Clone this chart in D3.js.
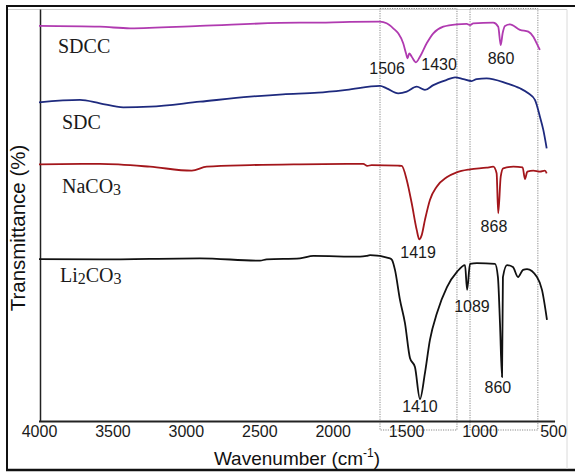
<!DOCTYPE html>
<html>
<head>
<meta charset="utf-8">
<script src="https://cdn.jsdelivr.net/npm/d3@7"></script>
<style>
  html, body { margin: 0; padding: 0; background: #fff; }
  svg { display: block; }
</style>
</head>
<body>
<div id="chart"></div>
<script>
// ---- Data (wavenumber cm^-1, transmittance in arbitrary offset %) ----
const xTicks = [4000, 3500, 3000, 2500, 2000, 1500, 1000, 500];

const sdccW = [4000,3585,3380,2904,2223,2155,1882,1678,1633,1588,1554,1520,1501,1490,1479,1462,1433,1406,1360,1315,1247,1156,1088,1065,1043,907,873,856,843,827,793,725,668,634,611,589];
const sdccT = [98.9,98.7,98.3,98.9,99.7,99.7,99.9,99.95,99.55,98.3,97.05,94.55,92.05,90.8,92.05,91.2,89.8,91.2,94.55,97.05,98.7,99.3,99.4,99.1,99.55,99.7,98.7,94.1,97.05,98.9,99.3,97.9,97.45,96.2,94.55,92.9];

const sdcW = [4000,3721,3585,3426,3244,2904,2563,2339,2100,1905,1678,1633,1554,1496,1428,1372,1315,1224,1167,1111,1054,1020,952,815,725,668,623,589,566,543];
const sdcT = [79.8,80.4,79.55,78.55,78.7,79.95,81.2,81.8,82.2,82.9,83.9,83.3,82.05,82.45,83.7,82.9,84.1,85.4,86.05,85.6,85.1,85.6,85.8,84.55,83.3,82.05,80.4,76.2,72.9,68.3];

const nacoW = [4000,3585,3244,2960,2858,2563,2223,1792,1765,1735,1554,1530,1496,1462,1428,1411,1394,1372,1338,1292,1224,1156,1065,952,907,884,873,856,839,770,707,691,675,634,589,555,543];
const nacoT = [64.3,64.4,63.7,62.7,63.7,64.1,64.3,64.4,63.9,64.1,63.95,63.9,60.4,54.55,47.9,45.55,46.6,50.4,55.4,58.7,61.05,62.3,63.05,63.45,63.7,62.05,52.05,61.2,63.3,63.7,63.55,60.6,62.45,62.7,62.45,62.7,62.05];

const liW = [4000,3585,2904,2495,2450,2223,2132,1814,1769,1746,1610,1596,1576,1542,1508,1474,1440,1406,1372,1338,1290,1222,1154,1099,1085,1065,1018,895,875,861,847,841,813,773,738,704,677,609,575,541];
const liT = [40.6,40.55,40.8,40.2,40.55,40.8,41.4,41.2,41.4,41.6,40.8,40.4,37.9,30.4,24.6,15.9,13.6,5.6,12.1,20.4,27.1,33.6,37.4,39.1,32.9,39.4,39.6,39.4,36.1,24.6,11.1,36.1,39.1,38.6,36.1,37.9,38.1,36.1,32.9,25.4];

const seriesNames = ["SDCC", "SDC", "NaCO3", "Li2CO3"];
const seriesColors = ["#b03ab0", "#1e2a7e", "#a3161b", "#111111"];

// Peak annotations: label, wavenumber, transmittance position
const peakLabels = ["1506", "1430", "860", "868", "1419", "1089", "860", "1410"];
const peakW = [1630, 1276, 854, 902, 1419, 1052, 875, 1406];
const peakT = [86.9, 87.9, 89.4, 47.4, 40.9, 27.4, 7.1, 2.4];

// Highlighted regions (wavenumber ranges)
const regionStart = [1678, 1065];
const regionEnd = [1154, 603];

// ---- Layout ----
const W = 575, H = 472;
const svg = d3.select("#chart").append("svg").attr("width", W).attr("height", H);

const x = d3.scaleLinear().domain([4000, 500]).range([39, 553]);
const y = d3.scaleLinear().domain([0, 100]).range([421.5, 21.5]);

// outer frame
svg.append("line").attr("x1", 6).attr("x2", 575).attr("y1", 6).attr("y2", 6).attr("stroke", "#111").attr("stroke-width", 2);
svg.append("line").attr("x1", 7).attr("x2", 7).attr("y1", 5).attr("y2", 471).attr("stroke", "#111").attr("stroke-width", 2);
svg.append("line").attr("x1", 6).attr("x2", 575).attr("y1", 470).attr("y2", 470).attr("stroke", "#111").attr("stroke-width", 2.5);
svg.append("line").attr("x1", 8).attr("x2", 567).attr("y1", 9.5).attr("y2", 9.5).attr("stroke", "#cfcfcf").attr("stroke-width", 1);
svg.append("line").attr("x1", 567).attr("x2", 567).attr("y1", 9.5).attr("y2", 469).attr("stroke", "#dadada").attr("stroke-width", 1);

// dotted regions
regionStart.forEach((s, i) => {
  const x0 = x(s), x1 = x(regionEnd[i]);
  svg.append("rect")
    .attr("x", x0).attr("y", 8.5)
    .attr("width", x1 - x0).attr("height", 430 - 8.5)
    .attr("fill", "none").attr("stroke", "#8a8a8a")
    .attr("stroke-width", 1).attr("stroke-dasharray", "1.2,1.2");
});

// axes
const xAxis = d3.axisBottom(x).tickValues(xTicks).tickSize(0).tickPadding(4).tickFormat(d3.format("d"));
const gx = svg.append("g").attr("transform", `translate(0,${y(0)})`).call(xAxis);
gx.select(".domain").remove();
gx.selectAll("text").attr("font-family", "Liberation Sans, Arial, sans-serif").attr("font-size", 16).attr("fill", "#1a1a1a");
svg.append("line").attr("x1", x(4000)).attr("x2", x(486)).attr("y1", y(0)).attr("y2", y(0)).attr("stroke", "#222").attr("stroke-width", 2);
svg.append("line").attr("x1", 40.5).attr("x2", 40.5).attr("y1", y(103)).attr("y2", y(0)).attr("stroke", "#222").attr("stroke-width", 1.5);

// axis titles
const xt = svg.append("text").attr("x", 297).attr("y", 465).attr("text-anchor", "middle")
  .attr("font-family", "Liberation Sans, Arial, sans-serif").attr("font-size", 19).attr("fill", "#111");
xt.append("tspan").text("Wavenumber (cm");
xt.append("tspan").attr("font-size", 12).attr("dy", -8).text("-1");
xt.append("tspan").attr("dy", 8).text(")");

svg.append("text").attr("transform", "translate(25,228) rotate(-90)").attr("text-anchor", "middle")
  .attr("font-family", "Liberation Sans, Arial, sans-serif").attr("font-size", 20.5).attr("fill", "#111")
  .text("Transmittance (%)");

// curves
const allW = [sdccW, sdcW, nacoW, liW];
const allT = [sdccT, sdcT, nacoT, liT];
const line = d3.line().x(d => x(d[0])).y(d => y(d[1])).curve(d3.curveMonotoneX);
allW.forEach((ws, i) => {
  const pts = ws.map((w, j) => [w, allT[i][j]]);
  svg.append("path").datum(pts).attr("d", line)
    .attr("fill", "none").attr("stroke", seriesColors[i]).attr("stroke-width", 1.8)
    .attr("stroke-linejoin", "round");
});

// series labels (serif)
const labelPos = [[58, 53], [62, 129], [62, 193], [60, 282]];
const serif = "Liberation Serif, Times New Roman, serif";
function chem(g, str, px, py) {
  const t = g.append("text").attr("x", px).attr("y", py).attr("font-family", serif).attr("font-size", 20).attr("fill", "#1a1a1a");
  const parts = str.match(/[A-Za-z]+|\d+/g);
  let sub = false;
  parts.forEach(p => {
    if (/\d/.test(p)) {
      t.append("tspan").attr("font-size", 16).attr("dy", 1.5).text(p);
      sub = true;
    } else {
      t.append("tspan").attr("dy", sub ? -1.5 : 0).text(p);
      sub = false;
    }
  });
}
seriesNames.forEach((n, i) => chem(svg, n, labelPos[i][0], labelPos[i][1]));

// peak annotations
peakLabels.forEach((l, i) => {
  svg.append("text").attr("x", x(peakW[i])).attr("y", y(peakT[i])).attr("text-anchor", "middle")
    .attr("font-family", "Liberation Sans, Arial, sans-serif").attr("font-size", 16).attr("fill", "#1a1a1a")
    .text(l);
});
</script>
</body>
</html>
